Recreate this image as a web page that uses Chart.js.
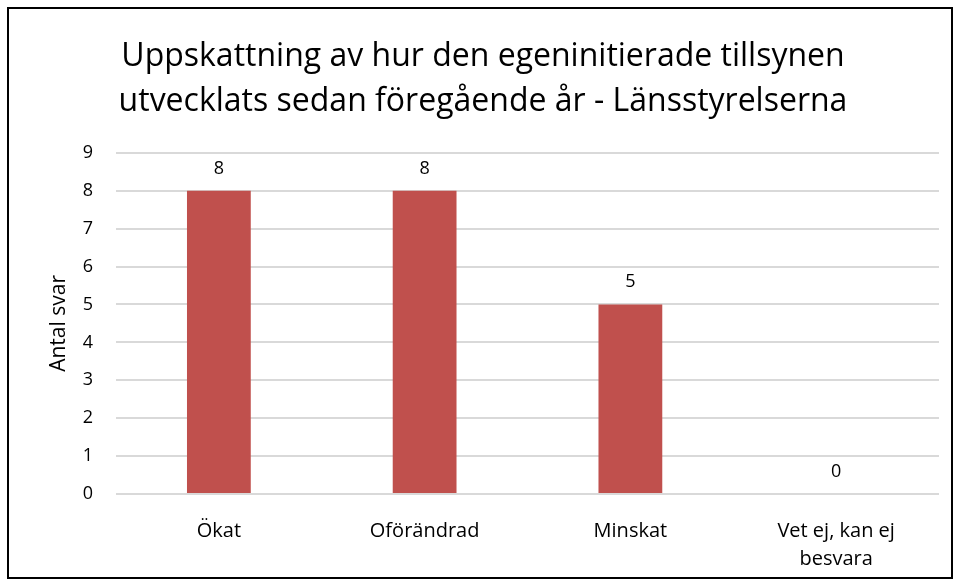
<!DOCTYPE html>
<html>
<head>
<meta charset="utf-8">
<script src="https://cdn.jsdelivr.net/npm/chart.js@4/dist/chart.umd.min.js"></script>
<style>
  html, body { margin: 0; padding: 0; background: #fff; }
  #box {
    position: absolute; left: 7px; top: 7px;
    width: 942px; height: 568px;
    border: 2px solid #000; background: #fff;
  }
  #box canvas { display: block; }
</style>
</head>
<body>
<div id="box"><canvas id="chart" width="942" height="568"></canvas></div>
<script>
var titleLines = ["Uppskattning av hur den egeninitierade tillsynen", "utvecklats sedan föregående år - Länsstyrelserna"];
var categories = ["Ökat", "Oförändrad", "Minskat", ["Vet ej, kan ej", "besvara"]];
var values = [8, 8, 5, 0];
var yTicks = [0, 1, 2, 3, 4, 5, 6, 7, 8, 9];
var yTitle = "Antal svar";

var fontFamily = "'Open Sans', 'Liberation Sans', sans-serif";

// etiketter ovanför staplarna
var valueLabels = {
    id: 'valueLabels',
    afterDatasetsDraw: function (chart) {
        var ctx = chart.ctx;
        var meta = chart.getDatasetMeta(0);
        ctx.save();
        ctx.font = "18px " + fontFamily;
        ctx.fillStyle = "#000";
        ctx.textAlign = "center";
        ctx.textBaseline = "alphabetic";
        meta.data.forEach(function (bar, i) {
            ctx.fillText(values[i], bar.x, bar.y - 17);
        });
        ctx.restore();
    }
};

new Chart(document.getElementById('chart'), {
    type: 'bar',
    data: {
        labels: categories,
        datasets: [{
            data: values,
            backgroundColor: '#C0504D',
            categoryPercentage: 1,
            barPercentage: 0.31
        }]
    },
    options: {
        responsive: false,
        animation: false,
        layout: { padding: { left: 18, right: 12, top: 0, bottom: 4 } },
        plugins: {
            legend: { display: false },
            tooltip: { enabled: false },
            title: {
                display: true,
                text: titleLines,
                color: '#000',
                font: { family: fontFamily, size: 32, weight: 'normal', lineHeight: 1.42 },
                padding: { top: 25, bottom: 28 }
            }
        },
        scales: {
            x: {
                grid: { display: false, drawTicks: false },
                border: { display: false },
                afterFit: function (axis) { axis.height = 79; },
                ticks: {
                    color: '#000',
                    font: { family: fontFamily, size: 20, lineHeight: 1.4 },
                    padding: 23,
                    maxRotation: 0
                }
            },
            y: {
                min: 0,
                max: 9,
                afterBuildTicks: function (axis) {
                    axis.ticks = yTicks.map(function (v) { return { value: v }; });
                },
                afterFit: function (axis) { axis.width = 89; },
                grid: { color: '#d9d9d9', lineWidth: 2, drawTicks: false },
                border: { display: false },
                ticks: {
                    color: '#000',
                    font: { family: fontFamily, size: 18 },
                    padding: 23
                },
                title: {
                    display: true,
                    text: yTitle,
                    color: '#000',
                    font: { family: fontFamily, size: 21 },
                    padding: { top: 19, bottom: 0 }
                }
            }
        }
    },
    plugins: [valueLabels]
});
</script>
</body>
</html>
